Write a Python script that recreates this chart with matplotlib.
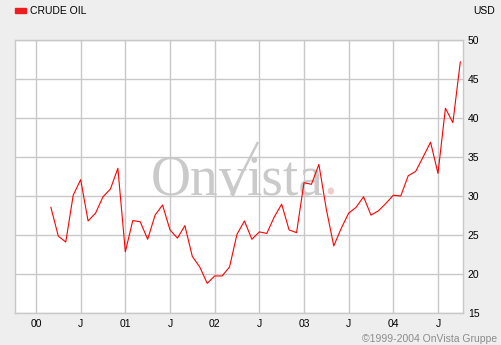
import numpy as np
import matplotlib
matplotlib.use("Agg")
import matplotlib.pyplot as plt
from matplotlib.patches import Rectangle
from matplotlib.lines import Line2D

# months counted from Jan 2000 (0 = Jan 2000)
months = list(range(2, 58))
prices = [28.55, 24.85, 24.1, 30.1, 32.1, 26.8, 27.8, 29.9, 30.9, 33.55,
          22.85, 26.85, 26.7, 24.45, 27.55, 28.85, 25.65, 24.6, 26.2, 22.25,
          20.9, 18.8, 19.75, 19.75, 20.9, 25.1, 26.8, 24.45, 25.4, 25.2,
          27.3, 28.95, 25.65, 25.3, 31.7, 31.5, 34.05, 28.3, 23.6, 25.85,
          27.8, 28.55, 29.9, 27.55, 28.1, 29.05, 30.1, 30.0, 32.6, 33.15,
          35.0, 36.9, 32.9, 41.25, 39.4, 47.2]

xtick_pos = [0, 6, 12, 18, 24, 30, 36, 42, 48, 54]
xtick_lab = ["00", "J", "01", "J", "02", "J", "03", "J", "04", "J"]
ytick_pos = [15, 20, 25, 30, 35, 40, 45, 50]

W, H = 501, 345
BG = "#eeeeee"
GRID = "#c8c8c8"
WM = "#cacaca"

plt.rcParams['font.family'] = ['Liberation Sans', 'DejaVu Sans']

fig = plt.figure(figsize=(W / 100, H / 100), dpi=100, facecolor=BG)
ax = fig.add_axes([15 / W, 1 - 313 / H, (463 - 15) / W, (313 - 40) / H])
ax.set_facecolor("white")

ax.plot(months, prices, color="#ff0000", lw=0.8, zorder=5)

ax.set_xlim(-2.82, 57.36)
ax.set_ylim(15, 50)
ax.set_xticks(xtick_pos)
ax.set_xticklabels(xtick_lab)
ax.set_yticks(ytick_pos)
ax.yaxis.tick_right()
ax.tick_params(length=0, labelsize=7.5, colors="black")
ax.tick_params(axis="y", pad=3.5)
ax.tick_params(axis="x", pad=4)
ax.grid(True, color=GRID, lw=1.0)
ax.set_axisbelow(True)
for s in ax.spines.values():
    s.set_color(GRID)
    s.set_linewidth(1.0)

# watermark "OnVista." built from pieces, under the grid
renderer = fig.canvas.get_renderer()
base_y = 1 - 195 / H
x_px = 151
for part, col in [("On", WM), ("v", WM), ("ista", WM), (".", "#f2cccc")]:
    t = ax.text(x_px / W, base_y, part, transform=fig.transFigure,
                fontsize=40, family="Liberation Serif", color=col,
                va="baseline", ha="left", zorder=0.2)
    bb = t.get_window_extent(renderer=renderer)
    x_px += bb.width
# long right stroke of the "V"
ax.add_line(Line2D([231 / W, 258 / W], [base_y, 1 - 142 / H],
                   transform=fig.transFigure, color=WM, lw=1.8,
                   solid_capstyle="butt", zorder=0.2))

# legend and header
fig.patches.append(Rectangle((15 / W, 1 - 12.5 / H), 11 / W, 4.5 / H,
                             transform=fig.transFigure, color="#ee1c1c"))
fig.text(30 / W, 1 - 10.5 / H, "CRUDE OIL", fontsize=7.5, va="center", ha="left")
fig.text(495 / W, 1 - 10.5 / H, "USD", fontsize=7.5, va="center", ha="right")
fig.text(497 / W, 1 - 339.5 / H, "\u00a91999-2004 OnVista Gruppe", fontsize=7.5,
         va="center", ha="right", color="#8c8c8c")

fig.savefig("out.png", dpi=100, facecolor=BG)
